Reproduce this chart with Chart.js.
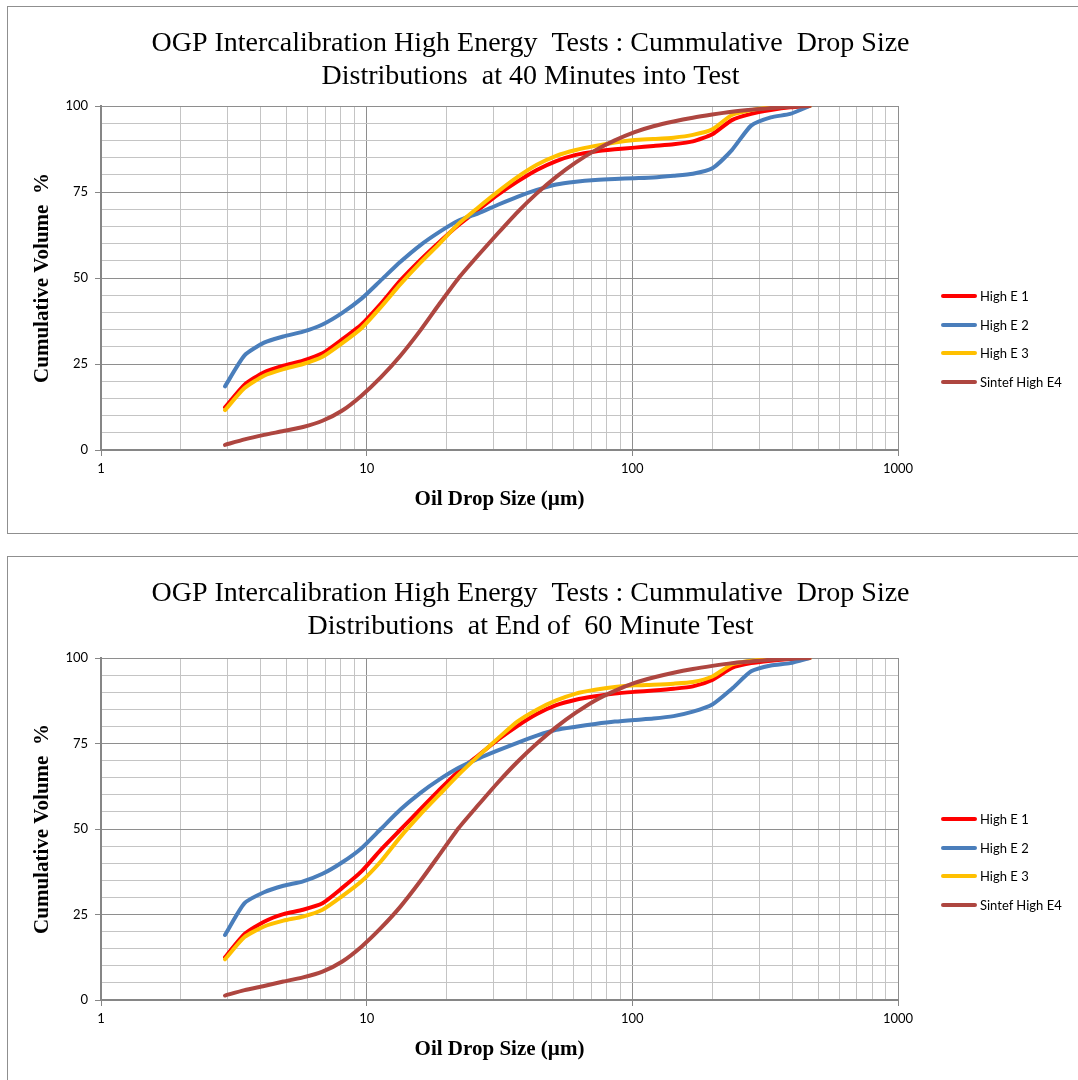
<!DOCTYPE html>
<html>
<head>
<meta charset="utf-8">
<title>OGP Intercalibration High Energy Tests</title>
<script src="https://cdn.jsdelivr.net/npm/chart.js@4.4.1/dist/chart.umd.min.js"></script>
<style>
  html, body { margin: 0; padding: 0; background: #fff; width: 1078px; height: 1080px; overflow: hidden; }
  .panel { position: absolute; left: 7px; width: 1100px; height: 526px; border: 1px solid #8f8f8f; background: #fff; }
  #p1 { top: 6px; }
  #p2 { top: 556px; }
  .panel canvas { position: absolute; left: 0; top: 0; }
  .legend { position: absolute; left: 933px; top: 0; font: 13px Lato, "Liberation Sans", sans-serif; color: #000; }
  .legend .item { position: absolute; left: 0; height: 16px; line-height: 16px; white-space: nowrap; }
  .legend .swatch { position: absolute; left: 0; top: 6px; width: 36px; height: 4px; border-radius: 2px; }
  .legend .label { position: absolute; left: 39px; top: 0; }
</style>
</head>
<body>
<div class="panel" id="p1"><canvas id="c1" width="1045" height="526"></canvas><div class="legend" id="l1"></div></div>
<div class="panel" id="p2"><canvas id="c2" width="1045" height="526"></canvas><div class="legend" id="l2"></div></div>
<script>
// Drop size bin centres (µm)
const dropSizes = [2.93, 3.47, 4.11, 4.86, 5.76, 6.82, 8.07, 9.56, 11.3, 13.4, 15.9, 18.8, 22.2, 26.3, 31.2,
  36.9, 43.7, 51.7, 61.3, 72.5, 85.9, 102, 120, 143, 169, 200, 237, 280, 332, 393, 465];

const seriesNames = ['High E 1', 'High E 2', 'High E 3', 'Sintef High E4'];
const seriesColors = ['#FF0000', '#4A7EBB', '#FFC000', '#AE4640'];

// Cumulative volume (%) at 40 minutes
const highE1_40 = [12.4, 19.0, 22.6, 24.5, 26.0, 28.1, 32.1, 36.5, 42.5, 49.3, 55.2, 60.5, 65.4, 69.8, 74.2,
  78.0, 81.4, 84.0, 85.8, 86.8, 87.4, 87.9, 88.4, 88.9, 89.7, 91.8, 95.9, 97.7, 98.8, 99.6, 100];
const highE2_40 = [18.5, 27.5, 31.2, 33.0, 34.4, 36.5, 39.8, 44.0, 49.3, 54.7, 59.5, 63.4, 66.7, 68.8, 71.3,
  73.6, 75.6, 77.2, 78.0, 78.5, 78.8, 79.0, 79.2, 79.7, 80.3, 81.9, 87.2, 94.3, 96.7, 97.7, 100];
const highE3_40 = [11.6, 18.0, 21.6, 23.5, 25.0, 27.1, 31.0, 35.4, 41.5, 48.2, 54.4, 60.0, 65.8, 70.5, 75.1,
  79.3, 82.9, 85.5, 87.2, 88.4, 89.4, 90.1, 90.4, 90.8, 91.6, 93.2, 97.4, 98.8, 99.6, 100, 100];
const sintefE4_40 = [1.5, 3.1, 4.4, 5.5, 6.7, 8.5, 11.4, 15.8, 21.1, 27.4, 34.7, 42.5, 50.0, 56.6, 63.0,
  69.1, 74.6, 79.4, 83.6, 87.1, 90.0, 92.4, 94.1, 95.5, 96.6, 97.5, 98.3, 98.9, 99.4, 99.8, 100];

// Cumulative volume (%) at end of 60 minute test
const highE1_60 = [12.5, 19.3, 22.9, 25.1, 26.4, 28.3, 32.7, 37.6, 43.9, 49.8, 55.7, 61.5, 66.9, 71.5, 76.1,
  80.1, 83.6, 86.2, 87.8, 88.8, 89.6, 90.1, 90.5, 91.0, 91.7, 93.6, 97.1, 98.5, 99.2, 99.7, 100];
const highE2_60 = [19.0, 28.3, 31.5, 33.4, 34.7, 36.9, 40.2, 44.4, 50.0, 55.7, 60.5, 64.5, 67.9, 70.6, 73.0,
  75.2, 77.3, 79.0, 79.9, 80.7, 81.4, 81.9, 82.3, 83.0, 84.3, 86.4, 91.0, 96.1, 97.8, 98.5, 100];
const highE3_60 = [11.9, 18.4, 21.5, 23.2, 24.4, 26.4, 30.3, 34.7, 40.5, 47.7, 54.2, 60.1, 65.9, 71.3, 76.5,
  81.4, 84.9, 87.6, 89.6, 90.7, 91.5, 92.0, 92.2, 92.5, 93.0, 94.6, 98.1, 99.2, 99.7, 100, 100];
const sintefE4_60 = [1.3, 2.9, 4.1, 5.4, 6.6, 8.3, 11.2, 15.6, 21.0, 27.3, 34.7, 42.5, 50.3, 57.0, 63.6,
  69.6, 75.0, 79.8, 84.0, 87.6, 90.4, 92.7, 94.3, 95.7, 96.8, 97.7, 98.5, 99.0, 99.5, 99.8, 100];

// Axis ticks
const xGridValues = [1, 2, 3, 4, 5, 6, 7, 8, 9, 10, 20, 30, 40, 50, 60, 70, 80, 90,
  100, 200, 300, 400, 500, 600, 700, 800, 900, 1000];
const xLabelValues = [1, 10, 100, 1000];
const yLabelValues = [0, 25, 50, 75, 100];

const titles40 = ['OGP Intercalibration High Energy  Tests : Cummulative  Drop Size', 'Distributions  at 40 Minutes into Test'];
const titles60 = ['OGP Intercalibration High Energy  Tests : Cummulative  Drop Size', 'Distributions  at End of  60 Minute Test'];

const MAJOR_GRID = '#8e8e8e';
const MINOR_GRID = '#c4c4c4';
const AXIS = '#868686';
const tickFont = { family: 'Lato, "Liberation Sans", sans-serif', size: 13 };
const axisTitleFont = { family: '"Liberation Serif", "Times New Roman", serif', size: 21, weight: 'bold' };

function makeChart(canvasId, legendId, titleLines, series, titleGap, legendTop) {
  const datasets = series.map((vals, i) => ({
    label: seriesNames[i],
    data: vals.map((v, k) => ({ x: dropSizes[k], y: v })),
    borderColor: seriesColors[i],
    backgroundColor: seriesColors[i],
    borderWidth: 4,
    pointRadius: 0,
    pointHoverRadius: 0,
    tension: 0.2,
    borderJoinStyle: 'round',
    borderCapStyle: 'round',
    fill: false,
    order: series.length - i
  }));

  const chart = new Chart(document.getElementById(canvasId), {
    type: 'line',
    data: { datasets },
    options: {
      responsive: false,
      animation: false,
      events: [],
      layout: { padding: 0 },
      plugins: {
        legend: { display: false },
        tooltip: { enabled: false },
        title: {
          display: true,
          text: titleLines,
          color: '#000',
          font: { family: '"Liberation Serif", "Times New Roman", serif', size: 28, weight: 'normal', lineHeight: '33px' },
          padding: { top: 20, bottom: titleGap }
        }
      },
      scales: {
        x: {
          type: 'logarithmic',
          min: 1,
          max: 1000,
          afterBuildTicks: s => { s.ticks = xGridValues.map(v => ({ value: v })); },
          afterFit: s => { s.height = 83; },
          ticks: {
            autoSkip: false,
            maxRotation: 0,
            color: '#000',
            font: tickFont,
            padding: 5,
            callback: v => xLabelValues.includes(v) ? String(v) : ''
          },
          grid: {
            color: c => (c.tick && xLabelValues.includes(c.tick.value)) ? MAJOR_GRID : MINOR_GRID,
            lineWidth: 1,
            drawTicks: true,
            tickLength: 6,
            tickColor: c => (c.tick && xLabelValues.includes(c.tick.value)) ? AXIS : 'rgba(0,0,0,0)'
          },
          border: { color: AXIS, width: 2 },
          title: {
            display: true,
            text: 'Oil Drop Size (µm)',
            color: '#000',
            font: axisTitleFont,
            padding: { top: 0, bottom: 21 }
          }
        },
        y: {
          type: 'linear',
          min: 0,
          max: 100,
          afterFit: s => { s.width = 93; },
          ticks: {
            stepSize: 5,
            autoSkip: false,
            color: '#000',
            font: tickFont,
            padding: 7,
            callback: v => yLabelValues.includes(v) ? String(v) : ''
          },
          grid: {
            color: c => (c.tick && yLabelValues.includes(c.tick.value)) ? MAJOR_GRID : MINOR_GRID,
            lineWidth: 1,
            drawTicks: true,
            tickLength: 6,
            tickColor: c => (c.tick && yLabelValues.includes(c.tick.value)) ? AXIS : 'rgba(0,0,0,0)'
          },
          border: { color: AXIS, width: 2 },
          title: {
            display: true,
            text: 'Cumulative Volume  %',
            color: '#000',
            font: axisTitleFont,
            padding: { top: 22, bottom: 0 }
          }
        },
        // blank strip on the right that holds the series key
        keySpace: {
          type: 'linear',
          position: 'right',
          display: true,
          afterFit: s => { s.width = 155; },
          grid: { display: false, drawTicks: false },
          ticks: { display: false },
          border: { display: false }
        }
      }
    }
  });

  // Legend built from the chart's own datasets
  const legend = document.getElementById(legendId);
  chart.data.datasets.forEach((ds, i) => {
    const item = document.createElement('div');
    item.className = 'item';
    item.style.top = (legendTop + i * 28.5 - 8) + 'px';
    const sw = document.createElement('span');
    sw.className = 'swatch';
    sw.style.background = ds.borderColor;
    const lb = document.createElement('span');
    lb.className = 'label';
    lb.textContent = ds.label;
    item.appendChild(sw);
    item.appendChild(lb);
    legend.appendChild(item);
  });
  return chart;
}

makeChart('c1', 'l1', titles40, [highE1_40, highE2_40, highE3_40, sintefE4_40], 13, 289);
makeChart('c2', 'l2', titles60, [highE1_60, highE2_60, highE3_60, sintefE4_60], 15, 262);
</script>
</body>
</html>
